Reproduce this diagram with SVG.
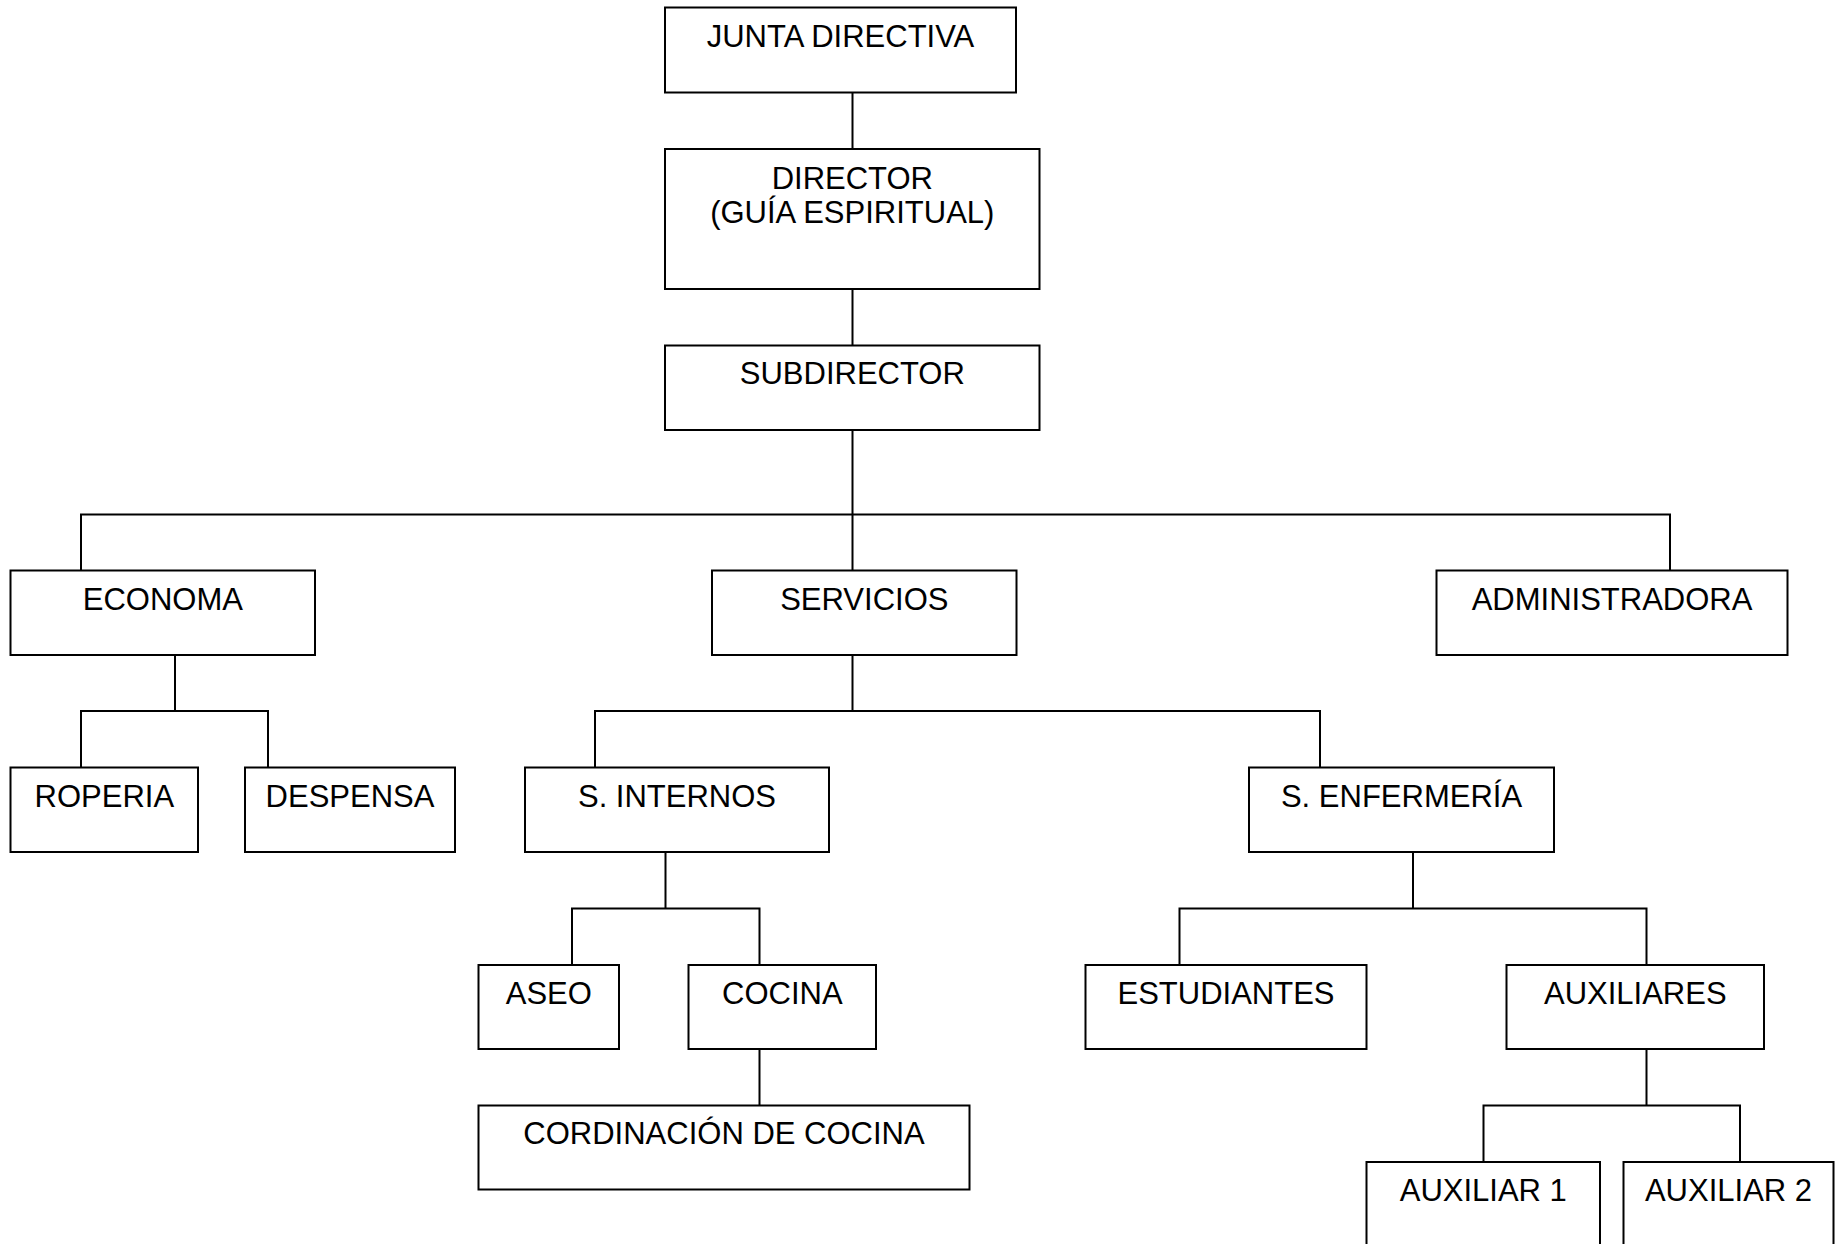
<svg xmlns="http://www.w3.org/2000/svg" width="1836" height="1244" viewBox="0 0 1836 1244">
<style>
rect.box{fill:#fff;stroke:#000;stroke-width:2}
text{font-family:"Liberation Sans",Arial,sans-serif;font-size:31px;fill:#000;text-anchor:middle}
#connectors path{fill:none;stroke:#000;stroke-width:2}
</style>
<rect width="1836" height="1244" fill="#fff"/>
<g id="connectors">
<path d="M852.5 92.5V149M852.5 289V345.5M852.5 430V570.5"/>
<path d="M81 570.5V514.5H1670V570.5"/>
<path d="M175 655V711M81 767.5V711H268V767.5"/>
<path d="M852.5 655V711M595 767.5V711H1320V767.5"/>
<path d="M665.5 852V908.5M572 965V908.5H759.5V965"/>
<path d="M759.5 1049V1105.5"/>
<path d="M1413 852V908.5M1179.5 965V908.5H1646.5V965"/>
<path d="M1646.5 1049V1105.5M1483.5 1162V1105.5H1740V1162"/>
</g>
<g id="junta"><rect class="box" x="665" y="7.5" width="351" height="85"/><text x="840.5" y="47">JUNTA DIRECTIVA</text></g>
<g id="director"><rect class="box" x="665" y="149" width="374.5" height="140"/><text x="852.3" y="188.5">DIRECTOR</text><text x="852.3" y="223">(GUÍA ESPIRITUAL)</text></g>
<g id="subdirector"><rect class="box" x="665" y="345.5" width="374.5" height="84.5"/><text x="852.3" y="384">SUBDIRECTOR</text></g>
<g id="economa"><rect class="box" x="10.5" y="570.5" width="304.5" height="84.5"/><text x="162.8" y="610">ECONOMA</text></g>
<g id="servicios"><rect class="box" x="712" y="570.5" width="304.5" height="84.5"/><text x="864.3" y="610">SERVICIOS</text></g>
<g id="administradora"><rect class="box" x="1436.5" y="570.5" width="351" height="84.5"/><text x="1612" y="610">ADMINISTRADORA</text></g>
<g id="roperia"><rect class="box" x="10.5" y="767.5" width="187.5" height="84.5"/><text x="104.3" y="807">ROPERIA</text></g>
<g id="despensa"><rect class="box" x="245" y="767.5" width="210" height="84.5"/><text x="350" y="807">DESPENSA</text></g>
<g id="s-internos"><rect class="box" x="525" y="767.5" width="304" height="84.5"/><text x="677" y="807">S. INTERNOS</text></g>
<g id="s-enfermeria"><rect class="box" x="1249" y="767.5" width="305" height="84.5"/><text x="1401.5" y="807">S. ENFERMERÍA</text></g>
<g id="aseo"><rect class="box" x="478.5" y="965" width="140.5" height="84"/><text x="548.8" y="1004">ASEO</text></g>
<g id="cocina"><rect class="box" x="688.5" y="965" width="187.5" height="84"/><text x="782.3" y="1004">COCINA</text></g>
<g id="cordinacion"><rect class="box" x="478.5" y="1105.5" width="491" height="84"/><text x="724" y="1144">CORDINACIÓN DE COCINA</text></g>
<g id="estudiantes"><rect class="box" x="1085.5" y="965" width="281" height="84"/><text x="1226" y="1004">ESTUDIANTES</text></g>
<g id="auxiliares"><rect class="box" x="1506.5" y="965" width="257.5" height="84"/><text x="1635.3" y="1004">AUXILIARES</text></g>
<g id="auxiliar1"><rect class="box" x="1366.5" y="1162" width="233.5" height="84.5"/><text x="1483.3" y="1201">AUXILIAR 1</text></g>
<g id="auxiliar2"><rect class="box" x="1623.5" y="1162" width="210" height="84.5"/><text x="1728.5" y="1201">AUXILIAR 2</text></g>
</svg>
